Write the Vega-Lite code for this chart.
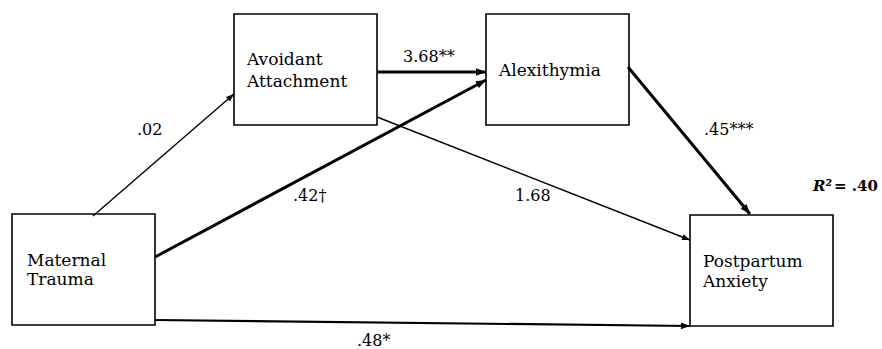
{
  "$schema": "https://vega.github.io/schema/vega-lite/v6.json",
  "width": 882,
  "height": 349,
  "padding": 0,
  "autosize": "none",
  "background": "white",
  "config": {"view": {"stroke": null}, "text": {"font": "DejaVu Serif"}},
  "datasets": {
    "nodes": [
      {"node": "Maternal Trauma", "left": 12, "right": 155, "top": 214, "bottom": 325},
      {"node": "Avoidant Attachment", "left": 234, "right": 377, "top": 14, "bottom": 125},
      {"node": "Alexithymia", "left": 486, "right": 629, "top": 14, "bottom": 125},
      {"node": "Postpartum Anxiety", "left": 690, "right": 833, "top": 215, "bottom": 326}
    ],
    "paths": [
      {"path": "Maternal Trauma -> Avoidant Attachment", "coef": ".02", "weight": "thin", "x1": 93, "y1": 216, "x2": 234, "y2": 94},
      {"path": "Avoidant Attachment -> Alexithymia", "coef": "3.68**", "weight": "bold", "x1": 377, "y1": 72, "x2": 486, "y2": 72},
      {"path": "Maternal Trauma -> Alexithymia", "coef": ".42†", "weight": "bold", "x1": 155, "y1": 257, "x2": 486, "y2": 80},
      {"path": "Avoidant Attachment -> Postpartum Anxiety", "coef": "1.68", "weight": "thin", "x1": 377, "y1": 117, "x2": 690, "y2": 240},
      {"path": "Alexithymia -> Postpartum Anxiety", "coef": ".45***", "weight": "bold", "x1": 628, "y1": 67, "x2": 750, "y2": 214},
      {"path": "Maternal Trauma -> Postpartum Anxiety", "coef": ".48*", "weight": "mid", "x1": 155, "y1": 320, "x2": 690, "y2": 326}
    ],
    "nodeLabels": [
      {"text": "Avoidant", "x": 247, "y": 65},
      {"text": "Attachment", "x": 247, "y": 87},
      {"text": "Alexithymia", "x": 499, "y": 76},
      {"text": "Maternal", "x": 27, "y": 266},
      {"text": "Trauma", "x": 27, "y": 285},
      {"text": "Postpartum", "x": 703, "y": 267},
      {"text": "Anxiety", "x": 703, "y": 287}
    ],
    "coefLabels": [
      {"text": ".02", "x": 137, "y": 135},
      {"text": "3.68**", "x": 403, "y": 62},
      {"text": ".42†", "x": 293, "y": 201},
      {"text": "1.68", "x": 515, "y": 201},
      {"text": ".45***", "x": 704, "y": 135},
      {"text": ".48*", "x": 357, "y": 346}
    ],
    "r2": [
      {"part": "R²", "x": 813, "y": 191},
      {"part": "= .40", "x": 834, "y": 191}
    ]
  },
  "layer": [
    {
      "data": {"name": "nodes"},
      "mark": {"type": "rect", "fill": "white", "stroke": "black", "strokeWidth": 1.6},
      "encoding": {
        "x": {"field": "left", "type": "quantitative", "scale": {"domain": [0, 882], "nice": false, "zero": false}, "axis": null},
        "x2": {"field": "right"},
        "y": {"field": "top", "type": "quantitative", "scale": {"domain": [0, 349], "nice": false, "zero": false, "reverse": true}, "axis": null},
        "y2": {"field": "bottom"}
      }
    },
    {
      "data": {"name": "paths"},
      "mark": {"type": "rule", "color": "black"},
      "encoding": {
        "x": {"field": "x1", "type": "quantitative", "scale": {"domain": [0, 882], "nice": false, "zero": false}, "axis": null},
        "x2": {"field": "x2"},
        "y": {"field": "y1", "type": "quantitative", "scale": {"domain": [0, 349], "nice": false, "zero": false, "reverse": true}, "axis": null},
        "y2": {"field": "y2"},
        "strokeWidth": {"field": "weight", "type": "nominal", "scale": {"domain": ["bold", "mid", "thin"], "range": [3, 1.4, 1.1]}, "legend": null}
      }
    },
    {
      "data": {"name": "paths"},
      "transform": [
        {"calculate": "atan2(datum.x2 - datum.x1, datum.y1 - datum.y2) * 180 / PI", "as": "heading"}
      ],
      "mark": {"type": "point", "shape": "M0,0L-0.38,1L0.38,1Z", "filled": true, "color": "black", "opacity": 1},
      "encoding": {
        "x": {"field": "x2", "type": "quantitative", "scale": {"domain": [0, 882], "nice": false, "zero": false}, "axis": null},
        "y": {"field": "y2", "type": "quantitative", "scale": {"domain": [0, 349], "nice": false, "zero": false, "reverse": true}, "axis": null},
        "angle": {"field": "heading", "type": "quantitative", "scale": null},
        "size": {"field": "weight", "type": "nominal", "scale": {"domain": ["bold", "mid", "thin"], "range": [400, 256, 256]}, "legend": null}
      }
    },
    {
      "data": {"name": "nodeLabels"},
      "mark": {"type": "text", "align": "left", "baseline": "alphabetic", "fontSize": 17, "color": "black"},
      "encoding": {
        "x": {"field": "x", "type": "quantitative", "scale": {"domain": [0, 882], "nice": false, "zero": false}, "axis": null},
        "y": {"field": "y", "type": "quantitative", "scale": {"domain": [0, 349], "nice": false, "zero": false, "reverse": true}, "axis": null},
        "text": {"field": "text"}
      }
    },
    {
      "data": {"name": "coefLabels"},
      "mark": {"type": "text", "align": "left", "baseline": "alphabetic", "fontSize": 16, "color": "black"},
      "encoding": {
        "x": {"field": "x", "type": "quantitative", "scale": {"domain": [0, 882], "nice": false, "zero": false}, "axis": null},
        "y": {"field": "y", "type": "quantitative", "scale": {"domain": [0, 349], "nice": false, "zero": false, "reverse": true}, "axis": null},
        "text": {"field": "text"}
      }
    },
    {
      "data": {"name": "r2"},
      "transform": [{"filter": "datum.part == 'R²'"}],
      "mark": {"type": "text", "align": "left", "baseline": "alphabetic", "fontSize": 15, "fontWeight": "bold", "fontStyle": "italic", "color": "black"},
      "encoding": {
        "x": {"field": "x", "type": "quantitative", "scale": {"domain": [0, 882], "nice": false, "zero": false}, "axis": null},
        "y": {"field": "y", "type": "quantitative", "scale": {"domain": [0, 349], "nice": false, "zero": false, "reverse": true}, "axis": null},
        "text": {"field": "part"}
      }
    },
    {
      "data": {"name": "r2"},
      "transform": [{"filter": "datum.part != 'R²'"}],
      "mark": {"type": "text", "align": "left", "baseline": "alphabetic", "fontSize": 15, "fontWeight": "bold", "color": "black"},
      "encoding": {
        "x": {"field": "x", "type": "quantitative", "scale": {"domain": [0, 882], "nice": false, "zero": false}, "axis": null},
        "y": {"field": "y", "type": "quantitative", "scale": {"domain": [0, 349], "nice": false, "zero": false, "reverse": true}, "axis": null},
        "text": {"field": "part"}
      }
    }
  ]
}
